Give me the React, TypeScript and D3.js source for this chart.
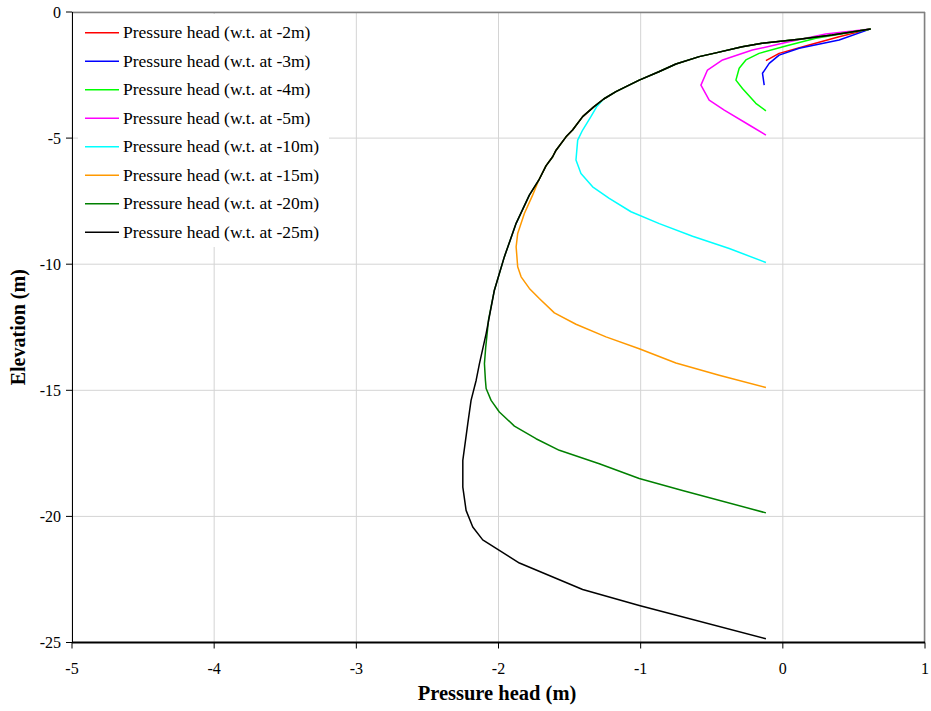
import React from "react";
import * as d3 from "d3";

type Pt = [number, number]; // [pressure head, elevation]

const wt2: Pt[] = [[0.618,-0.67],[0.396,-0.98],[0.185,-1.31],[-0.026,-1.64],[-0.119,-1.93]];
const wt3: Pt[] = [[0.618,-0.67],[0.396,-1.11],[0.115,-1.44],[-0.026,-1.71],[-0.096,-2.04],[-0.143,-2.43],[-0.131,-2.9]];
const wt4: Pt[] = [[0.618,-0.67],[0.232,-1.04],[0.021,-1.35],[-0.167,-1.64],[-0.26,-1.9],[-0.307,-2.23],[-0.33,-2.7],[-0.284,-3.03],[-0.19,-3.62],[-0.119,-3.92]];
const wt5: Pt[] = [[0.618,-0.67],[0.302,-0.87],[0.044,-1.18],[-0.214,-1.51],[-0.424,-1.9],[-0.53,-2.3],[-0.576,-2.9],[-0.518,-3.49],[-0.412,-3.89],[-0.237,-4.48],[-0.119,-4.88]];
const wt10: Pt[] = [[0.618,-0.67],[0.346,-0.91],[0.115,-1.08],[-0.146,-1.24],[-0.286,-1.38],[-0.471,-1.62],[-0.588,-1.77],[-0.752,-2.06],[-0.872,-2.37],[-1.01,-2.7],[-1.174,-3.16],[-1.26,-3.45],[-1.31,-3.76],[-1.35,-4.15],[-1.408,-4.68],[-1.443,-5.08],[-1.455,-5.87],[-1.42,-6.4],[-1.338,-6.93],[-1.221,-7.39],[-1.068,-7.92],[-0.869,-8.39],[-0.635,-8.89],[-0.377,-9.38],[-0.119,-9.93]];
const wt15: Pt[] = [[0.618,-0.67],[0.346,-0.91],[0.115,-1.08],[-0.146,-1.24],[-0.286,-1.38],[-0.471,-1.62],[-0.588,-1.77],[-0.752,-2.06],[-0.872,-2.37],[-1.01,-2.7],[-1.174,-3.16],[-1.26,-3.45],[-1.33,-3.76],[-1.408,-4.15],[-1.479,-4.68],[-1.525,-4.95],[-1.595,-5.48],[-1.619,-5.74],[-1.666,-6.1],[-1.717,-6.67],[-1.76,-7.26],[-1.818,-7.99],[-1.865,-8.78],[-1.876,-9.31],[-1.865,-10.1],[-1.841,-10.5],[-1.783,-10.96],[-1.713,-11.36],[-1.607,-11.93],[-1.455,-12.38],[-1.244,-12.88],[-1.01,-13.35],[-0.752,-13.92],[-0.448,-14.4],[-0.119,-14.89]];
const wt20: Pt[] = [[0.618,-0.67],[0.346,-0.91],[0.115,-1.08],[-0.146,-1.24],[-0.286,-1.38],[-0.471,-1.62],[-0.588,-1.77],[-0.752,-2.06],[-0.872,-2.37],[-1.01,-2.7],[-1.174,-3.16],[-1.26,-3.45],[-1.33,-3.76],[-1.408,-4.15],[-1.479,-4.68],[-1.525,-4.95],[-1.595,-5.48],[-1.619,-5.74],[-1.666,-6.1],[-1.717,-6.67],[-1.783,-7.26],[-1.876,-8.38],[-1.959,-9.71],[-2.029,-11.03],[-2.07,-12.2],[-2.09,-13.3],[-2.099,-13.94],[-2.092,-14.6],[-2.087,-14.93],[-2.052,-15.4],[-1.994,-15.86],[-1.888,-16.42],[-1.736,-16.92],[-1.572,-17.38],[-1.291,-17.91],[-1.01,-18.5],[-0.706,-18.97],[-0.119,-19.86]];
const wt25: Pt[] = [[0.618,-0.67],[0.346,-0.91],[0.115,-1.08],[-0.146,-1.24],[-0.286,-1.38],[-0.471,-1.62],[-0.588,-1.77],[-0.752,-2.06],[-0.872,-2.37],[-1.01,-2.7],[-1.174,-3.16],[-1.26,-3.45],[-1.33,-3.76],[-1.408,-4.15],[-1.479,-4.68],[-1.525,-4.95],[-1.595,-5.48],[-1.619,-5.74],[-1.666,-6.1],[-1.717,-6.67],[-1.783,-7.26],[-1.876,-8.38],[-1.959,-9.71],[-2.029,-11.03],[-2.087,-12.75],[-2.134,-13.94],[-2.157,-14.6],[-2.193,-15.4],[-2.216,-16.32],[-2.251,-17.78],[-2.251,-18.84],[-2.228,-19.76],[-2.181,-20.42],[-2.111,-20.93],[-1.853,-21.85],[-1.408,-22.9],[-1.01,-23.53],[-0.119,-24.85]];

const seriesNames = [
  "Pressure head (w.t. at -2m)",
  "Pressure head (w.t. at -3m)",
  "Pressure head (w.t. at -4m)",
  "Pressure head (w.t. at -5m)",
  "Pressure head (w.t. at -10m)",
  "Pressure head (w.t. at -15m)",
  "Pressure head (w.t. at -20m)",
  "Pressure head (w.t. at -25m)",
];
const seriesData = [wt2, wt3, wt4, wt5, wt10, wt15, wt20, wt25];
const seriesColors = ["#ff0000", "#0000ff", "#00ff00", "#ff00ff", "#00ffff", "#ff9900", "#008000", "#000000"];

const xTicks = [-5, -4, -3, -2, -1, 0, 1];
const yTicks = [0, -5, -10, -15, -20, -25];

export default function App() {
  const W = 931, H = 711;
  const left = 72, right = 925, top = 12, bottom = 642.5;
  const x = d3.scaleLinear().domain([-5, 1]).range([left, right]);
  const y = d3.scaleLinear().domain([0, -25]).range([top, bottom]);
  const line = d3.line<Pt>().x(d => x(d[0])).y(d => y(d[1]));
  const font = "'Liberation Serif', 'Times New Roman', serif";

  return (
    <svg width={W} height={H} style={{ position: "absolute", left: 0, top: 0, background: "#fff" }} fontFamily={font}>
      <rect x={0} y={0} width={W} height={H} fill="#fff" />
      {xTicks.map(t => (
        <line key={"gx" + t} x1={x(t)} x2={x(t)} y1={top} y2={bottom} stroke="#d4d4d4" strokeWidth={1} />
      ))}
      {yTicks.map(t => (
        <line key={"gy" + t} x1={left} x2={right} y1={y(t)} y2={y(t)} stroke="#d4d4d4" strokeWidth={1} />
      ))}
      <line x1={left} x2={right} y1={top + 0.5} y2={top + 0.5} stroke="#808080" strokeWidth={1.5} />
      <line x1={right - 0.5} x2={right - 0.5} y1={top} y2={bottom} stroke="#808080" strokeWidth={1.5} />
      <rect x={78} y={14} width={251} height={233} fill="#fff" />
      {seriesData.map((d, i) => (
        <path key={"s" + i} d={line(d) || ""} fill="none" stroke={seriesColors[i]} strokeWidth={1.5} strokeLinejoin="round" />
      ))}
      <line x1={left + 0.5} x2={left + 0.5} y1={top} y2={bottom} stroke="#000" strokeWidth={1} />
      <line x1={left} x2={right} y1={bottom} y2={bottom} stroke="#000" strokeWidth={2} />
      {yTicks.map(t => (
        <g key={"yt" + t}>
          <line x1={left - 6} x2={left} y1={y(t)} y2={y(t)} stroke="#000" strokeWidth={1} />
          <text x={left - 11} y={y(t)} dy="0.35em" textAnchor="end" fontSize={16}>{t}</text>
        </g>
      ))}
      {xTicks.map(t => (
        <g key={"xt" + t}>
          <line x1={x(t)} x2={x(t)} y1={bottom} y2={bottom + 6} stroke="#000" strokeWidth={1} />
          <text x={x(t)} y={668} dy="0.35em" textAnchor="middle" fontSize={16}>{t}</text>
        </g>
      ))}
      <text x={497} y={700} textAnchor="middle" fontSize={20.5} fontWeight="bold">Pressure head (m)</text>
      <text transform={`translate(25,${(top + bottom) / 2}) rotate(-90)`} textAnchor="middle" fontSize={20} fontWeight="bold">Elevation (m)</text>
      {seriesNames.map((n, i) => {
        const ly = 32.7 + i * 28.5;
        return (
          <g key={"lg" + i}>
            <line x1={85} x2={119} y1={ly} y2={ly} stroke={seriesColors[i]} strokeWidth={1.5} />
            <text x={123} y={ly} dy="0.33em" fontSize={17.5}>{n}</text>
          </g>
        );
      })}
    </svg>
  );
}
